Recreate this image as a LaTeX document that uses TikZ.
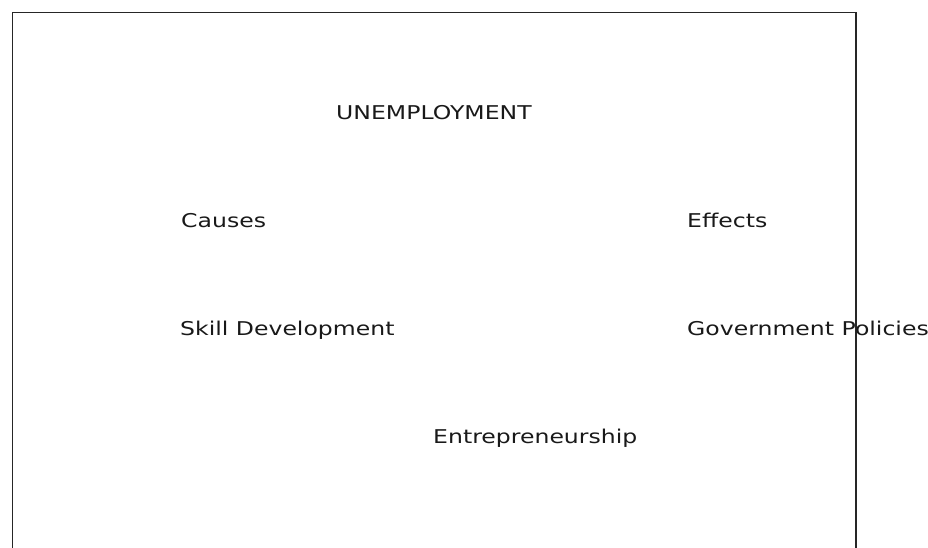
\documentclass[tikz,border=0pt]{standalone}
\usepackage{fontspec}
\setmainfont{DejaVu Sans}[FakeStretch=1.24]
\begin{document}
\begin{tikzpicture}[x=1pt,y=-1pt,
  lbl/.style={anchor=base west,inner sep=0pt,font=\fontsize{19}{22}\selectfont,text=black!90},
  frame/.style={draw=black!85,line width=1.4pt}]
\useasboundingbox (0,0) rectangle (928,548);
\coordinate (bl) at (12.5,548);
\coordinate (tl) at (12.5,12.5);
\coordinate (tr) at (856,12.5);
\coordinate (br) at (856,548);
\draw[frame] (bl) -- (tl) -- (tr) -- (br);
\node[lbl] (title) at (336,120) {UNEMPLOYMENT};
\node[lbl] (causes) at (181,227) {Causes};
\node[lbl] (effects) at (687,227) {Effects};
\node[lbl] (skill) at (180,335) {Skill Development};
\node[lbl] (gov) at (687,335) {Government Policies};
\node[lbl] (entre) at (433,443) {Entrepreneurship};
\end{tikzpicture}
\end{document}
